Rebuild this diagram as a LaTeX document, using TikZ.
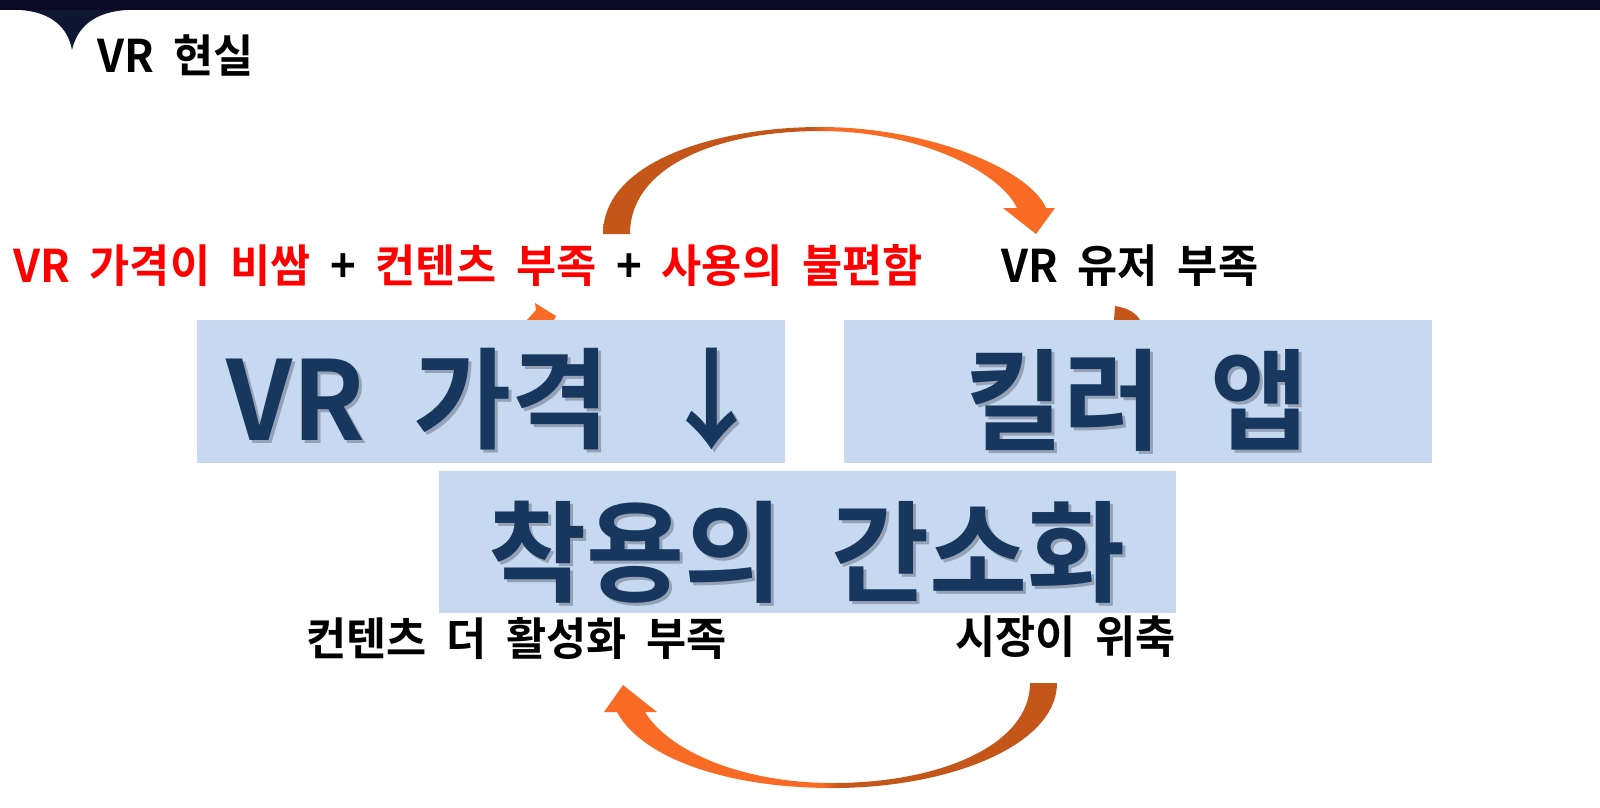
\documentclass[tikz,border=0pt]{standalone}
\usepackage{fontspec}
\setmainfont{Noto Sans CJK KR}[BoldFont=* Bold,FakeStretch=0.97,WordSpace=2.0]
\definecolor{barnavy}{HTML}{0B0826}
\definecolor{notchnavy}{HTML}{0F1631}
\definecolor{boxblue}{HTML}{C6D9F0}
\definecolor{textnavy}{HTML}{17375E}
\definecolor{txtshadow}{HTML}{95A2B6}
\definecolor{arrowdark}{HTML}{C5561A}
\definecolor{arrowlight}{HTML}{F96B24}
\pgfdeclarehorizontalshading{toparrow}{100bp}{color(0bp)=(arrowdark); color(48bp)=(arrowdark); color(50bp)=(arrowlight); color(100bp)=(arrowlight)}
\pgfdeclarehorizontalshading{bottomarrow}{100bp}{color(0bp)=(arrowlight); color(49bp)=(arrowlight); color(51bp)=(arrowdark); color(100bp)=(arrowdark)}
\newcommand\titletxt{\fontsize{45}{50}\selectfont\bfseries}
\newcommand\linetxt{\fontsize{45}{50}\selectfont\bfseries}
\newcommand\hugetxt{\fontsize{110}{120}\selectfont\bfseries}
\newcommand\shadowed[1]{\rlap{\hspace{3pt}\raisebox{-3pt}{\color{txtshadow}#1}}#1}
\begin{document}
\begin{tikzpicture}[x=1pt,y=-1pt,inner sep=0pt,
		box/.style={fill=boxblue,minimum width=588pt,minimum height=143pt},
		bigword/.style={text=textnavy,font=\hugetxt},
		redline/.style={text=red,font=\linetxt},
		blackline/.style={text=black,font=\linetxt}]
	\useasboundingbox (0,0) rectangle (1600,807);
	% top bar
	\fill[barnavy] (0,0) rectangle (1600,10);
	\fill[notchnavy] (20,10) .. controls (52,12) and (68,28) .. (72,50) .. controls (77,28) and (93,12) .. (127,10) -- cycle;
	\node[anchor=base west,font=\titletxt] (title) at (97,72) {VR 현실};
	% curved arrows
	\shade[shading=toparrow] (603,234) .. controls (603,160) and (720,127) .. (820,127) .. controls (930,127) and (1030,170) .. (1046,208) -- (1055,208) -- (1036,234) -- (1003,208) -- (1017,208) .. controls (1000,172) and (920,131) .. (820,131) .. controls (720,131) and (630,165) .. (630,234) -- cycle;
	\shade[shading=bottomarrow] (1057,683) .. controls (1057,745) and (950,788) .. (833,788) .. controls (720,788) and (640,755) .. (617,712) -- (604,712) -- (623,685) -- (657,712) -- (645,712) .. controls (668,750) and (740,783) .. (833,783) .. controls (940,783) and (1030,745) .. (1030,683) -- cycle;
	\fill[arrowlight] (527,320) -- (536,310) -- (535,303) -- (556,316) -- (554,320) -- cycle;
	\fill[arrowdark] (1114,320) -- (1115,306) .. controls (1128,308) and (1136,313) .. (1140,320) -- cycle;
	% boxes
	\node[box] (pricebox) at (491,391.5) {};
	\node[box] (appbox) at (1138,391.5) {};
	\node[box,minimum width=737pt,minimum height=142pt] (wearbox) at (807.5,542) {};
	\node[bigword,anchor=base west] (pricetxt) at (226,440) {\shadowed{VR 가격 ↓}};
	\node[bigword,anchor=base] (apptxt) at (1137,441) {\shadowed{킬러 앱}};
	\node[bigword,anchor=base] (weartxt) at (807,593) {\shadowed{착용의 간소화}};
	% labels
	\node[redline,anchor=base west] (costs) at (13,282) {VR 가격이 비쌈 {\color{black}+} 컨텐츠 부족 {\color{black}+} 사용의 불편함};
	\node[blackline,anchor=base west] (users) at (1001,282) {VR 유저 부족};
	\node[blackline,anchor=base west] (content) at (306,655) {컨텐츠 더 활성화 부족};
	\node[blackline,anchor=base east] (market) at (1176,653) {시장이 위축};
\end{tikzpicture}
\end{document}
